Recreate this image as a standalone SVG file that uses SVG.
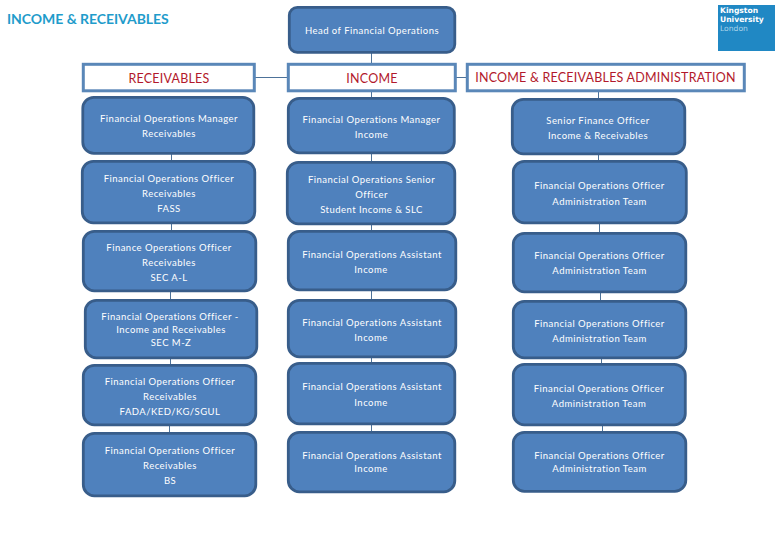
<svg xmlns="http://www.w3.org/2000/svg" width="780" height="540" viewBox="0 0 780 540">
<style>
text{font-family:"Lato","Open Sans","Liberation Sans",sans-serif}
.n{fill:#4f81bd;stroke:#385d8a;stroke-width:2.8}
.h{fill:#fff;stroke:#5a87b8;stroke-width:3}
.t{fill:#fff;font-size:9.5px;letter-spacing:.47px;text-anchor:middle}
.r{fill:#b2182b;font-size:12.5px;letter-spacing:.22px;text-anchor:middle}
.c{stroke:#4d7299;stroke-width:1;fill:none}
.k{font-family:"DejaVu Sans",sans-serif;font-size:7.6px}
</style>
<rect width="780" height="540" fill="#fff"/>
<text x="7" y="23.500" font-size="14" font-weight="700" fill="#1f9ccb" letter-spacing="-.05">INCOME &amp; RECEIVABLES</text>
<g id="logo"><rect x="718" y="5" width="57" height="46" fill="#2088c4"/>
<text class="k" x="720" y="13" font-weight="700" fill="#fff">Kingston</text>
<text class="k" x="720" y="21.500" font-weight="700" fill="#fff">University</text>
<text class="k" x="720" y="30.500" fill="#a9d3ea">London</text></g>
<g id="connectors" class="c">
<path d="M371.500 53V63M371.500 91V97M371.500 154V161M371.500 225V230M371.500 291V299M371.500 358V362M371.500 425V431"/>
<path d="M171.500 154V160M171.500 224V230M170.500 292V299M170.500 359V364M169.500 426V432"/>
<path d="M598.500 91V98M598.500 155V160M599.500 224V232M600.500 293V300M601.500 359V363M602.500 426V431"/>
<path d="M255 77.500H287M456 77.500H466"/>
</g>
<g id="head"><rect class="n" x="289.300" y="7.300" width="165.500" height="45" rx="8"/><text class="t" x="372" y="33.500">Head of Financial Operations</text></g>
<g id="hdr-receivables"><rect class="h" x="83.300" y="64.300" width="171" height="26.500"/><text class="r" x="169" y="82.500">RECEIVABLES</text></g>
<g id="hdr-income"><rect class="h" x="288.300" y="64.300" width="167" height="26.500"/><text class="r" x="372" y="82.500">INCOME</text></g>
<g id="hdr-admin"><rect class="h" x="467.300" y="64.300" width="277" height="26.500"/><text class="r" x="605.500" y="81.500">INCOME &amp; RECEIVABLES ADMINISTRATION</text></g>

<g id="l1"><rect class="n" x="82.800" y="97.300" width="171" height="56" rx="11"/><text class="t" x="169" y="122">Financial Operations Manager</text><text class="t" x="169" y="137">Receivables</text></g>
<g id="l2"><rect class="n" x="82.300" y="161.300" width="172.500" height="61.500" rx="11"/><text class="t" x="169" y="182">Financial Operations Officer</text><text class="t" x="169" y="197">Receivables</text><text class="t" x="169" y="212">FASS</text></g>
<g id="l3"><rect class="n" x="83.300" y="231.300" width="172.500" height="59.500" rx="11"/><text class="t" x="169" y="251">Finance Operations Officer</text><text class="t" x="169" y="266">Receivables</text><text class="t" x="169" y="281">SEC  A-L</text></g>
<g id="l4"><rect class="n" x="85.300" y="300.300" width="171.500" height="57.500" rx="11"/><text class="t" x="170" y="320">Financial Operations Officer -</text><text class="t" x="171" y="333">Income and Receivables</text><text class="t" x="171" y="346">SEC M-Z</text></g>
<g id="l5"><rect class="n" x="83.300" y="365.300" width="172.500" height="59.500" rx="11"/><text class="t" x="170" y="385">Financial Operations Officer</text><text class="t" x="170" y="400">Receivables</text><text class="t" x="170" y="415">FADA/KED/KG/SGUL</text></g>
<g id="l6"><rect class="n" x="83.300" y="433.300" width="172.500" height="62.500" rx="11"/><text class="t" x="170" y="454">Financial Operations Officer</text><text class="t" x="170" y="469">Receivables</text><text class="t" x="170" y="484">BS</text></g>

<g id="m1"><rect class="n" x="288.300" y="98.300" width="166" height="54.500" rx="11"/><text class="t" x="371.500" y="123">Financial Operations Manager</text><text class="t" x="371.500" y="138">Income</text></g>
<g id="m2"><rect class="n" x="287.300" y="162.300" width="167.500" height="61.500" rx="11"/><text class="t" x="371.500" y="183">Financial Operations Senior</text><text class="t" x="371.500" y="198">Officer</text><text class="t" x="371.500" y="213">Student Income &amp; SLC</text></g>
<g id="m3"><rect class="n" x="288.300" y="231.300" width="167.500" height="58.500" rx="11"/><text class="t" x="372" y="258">Financial Operations Assistant</text><text class="t" x="371" y="273">Income</text></g>
<g id="m4"><rect class="n" x="288.300" y="300.300" width="167.500" height="56.500" rx="11"/><text class="t" x="372" y="326">Financial Operations Assistant</text><text class="t" x="371" y="341">Income</text></g>
<g id="m5"><rect class="n" x="288.300" y="363.300" width="166.500" height="60.500" rx="11"/><text class="t" x="372" y="390">Financial Operations Assistant</text><text class="t" x="371" y="406">Income</text></g>
<g id="m6"><rect class="n" x="288.300" y="432.300" width="166.500" height="59.500" rx="11"/><text class="t" x="372" y="459">Financial Operations Assistant</text><text class="t" x="371" y="472">Income</text></g>

<g id="r1"><rect class="n" x="512.300" y="99.300" width="172.500" height="54.500" rx="11"/><text class="t" x="598" y="124">Senior Finance Officer</text><text class="t" x="598" y="139">Income &amp; Receivables</text></g>
<g id="r2"><rect class="n" x="513.300" y="161.300" width="173" height="61.500" rx="11"/><text class="t" x="599.500" y="189">Financial Operations Officer</text><text class="t" x="599.500" y="205">Administration Team</text></g>
<g id="r3"><rect class="n" x="513.300" y="233.300" width="172.500" height="58.500" rx="11"/><text class="t" x="599.500" y="259">Financial Operations Officer</text><text class="t" x="599.500" y="274">Administration Team</text></g>
<g id="r4"><rect class="n" x="513.300" y="301.300" width="172.500" height="56.500" rx="11"/><text class="t" x="599.500" y="327">Financial Operations Officer</text><text class="t" x="599.500" y="342">Administration Team</text></g>
<g id="r5"><rect class="n" x="513.300" y="364.300" width="172" height="60.500" rx="11"/><text class="t" x="599" y="392">Financial Operations Officer</text><text class="t" x="599" y="407">Administration Team</text></g>
<g id="r6"><rect class="n" x="513.300" y="432.300" width="172.500" height="59" rx="11"/><text class="t" x="599.500" y="459">Financial Operations Officer</text><text class="t" x="599.500" y="472">Administration Team</text></g>
</svg>
